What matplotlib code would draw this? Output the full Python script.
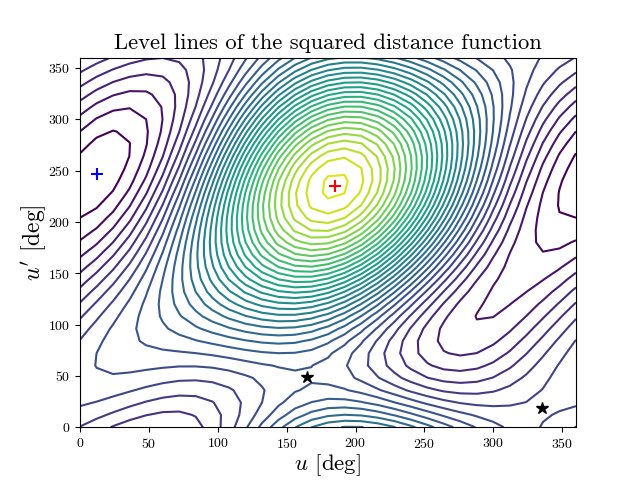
import numpy as np
import matplotlib
matplotlib.use('Agg')
import matplotlib.pyplot as plt

plt.rcParams['font.family'] = 'cmr10'
plt.rcParams['mathtext.fontset'] = 'cm'
plt.rcParams['axes.formatter.use_mathtext'] = True

# sampling of the two angles, every 12 deg (360 wraps round to 0)
u_deg = np.arange(0, 360, 12)
up_deg = np.arange(0, 360, 12)

# distance field, as contour level number x 100
# one row per u', one column per u
field = [
    [696,644,592,546,513,502,518,566,645,754,884,1026,1167,1296,1400,1472,1507,1505,1469,1406,1325,1236,1147,1065,993,932,881,836,792,746],
    [763,726,683,640,603,581,580,606,659,737,836,945,1054,1153,1232,1282,1302,1290,1251,1193,1123,1051,984,929,887,858,840,826,811,791],
    [815,796,766,729,693,666,654,663,695,748,819,899,980,1050,1103,1132,1133,1109,1064,1004,940,879,829,794,777,776,787,802,816,821],
    [850,850,835,809,779,752,735,734,751,786,835,891,946,992,1020,1026,1009,969,913,848,783,727,687,668,669,690,725,765,804,834],
    [867,886,889,877,857,836,820,816,826,849,883,920,955,979,986,971,934,877,807,732,661,603,566,554,568,604,656,717,778,830],
    [864,903,924,929,923,914,906,906,915,934,960,987,1007,1014,1002,968,911,836,749,660,577,512,471,459,477,521,585,660,738,808],
    [843,900,940,964,976,983,989,999,1016,1039,1065,1087,1099,1095,1069,1018,943,849,743,636,537,458,406,387,401,445,513,597,686,770],
    [805,878,936,980,1013,1040,1066,1094,1125,1159,1192,1217,1228,1219,1183,1119,1028,916,790,662,543,444,375,341,344,381,446,531,625,719],
    [752,838,914,978,1033,1084,1133,1184,1237,1289,1337,1372,1389,1380,1340,1267,1163,1033,887,736,594,471,379,324,309,331,386,464,558,656],
    [686,782,873,957,1036,1113,1190,1268,1347,1424,1493,1546,1575,1573,1534,1457,1342,1197,1031,857,688,539,419,337,297,298,335,402,488,586],
    [610,714,817,919,1021,1125,1232,1341,1452,1559,1654,1731,1778,1789,1756,1679,1558,1400,1216,1019,823,643,492,379,310,283,298,346,420,510],
    [529,635,748,866,990,1121,1258,1401,1546,1686,1814,1918,1990,2018,1998,1925,1801,1634,1434,1214,991,781,597,450,346,288,274,299,355,434],
    [445,549,668,800,944,1100,1268,1445,1625,1802,1964,2101,2200,2251,2247,2183,2061,1888,1674,1435,1187,946,728,545,405,312,266,263,296,359],
    [362,460,581,723,884,1064,1260,1470,1686,1900,2099,2270,2400,2477,2493,2442,2326,2151,1928,1671,1399,1130,879,660,483,354,273,239,246,289],
    [283,372,491,638,812,1012,1235,1476,1726,1976,2211,2418,2581,2686,2725,2691,2584,2411,2182,1912,1620,1325,1043,790,577,411,295,228,207,227],
    [211,287,401,549,733,948,1193,1460,1742,2026,2296,2537,2733,2869,2932,2917,2824,2656,2425,2147,1839,1522,1213,929,682,481,330,230,179,174],
    [149,210,314,460,647,873,1135,1425,1733,2047,2350,2623,2851,3016,3105,3112,3034,2875,2647,2365,2046,1712,1381,1070,793,560,377,245,165,134],
    [100,143,234,373,560,791,1064,1371,1700,2039,2369,2672,2928,3121,3236,3265,3204,3059,2838,2556,2232,1886,1539,1207,905,644,432,271,163,106],
    [64,88,164,293,474,705,983,1299,1644,2001,2353,2680,2961,3180,3319,3370,3329,3198,2988,2712,2388,2038,1680,1333,1013,730,494,308,174,93],
    [45,49,108,222,393,618,895,1214,1566,1935,2302,2647,2949,3189,3350,3423,3401,3288,3091,2825,2508,2159,1798,1444,1112,814,559,353,198,95],
    [42,27,67,165,321,535,804,1120,1471,1844,2220,2576,2893,3149,3329,3421,3418,3324,3144,2892,2586,2245,1888,1534,1198,892,626,405,233,111],
    [57,24,45,124,262,460,715,1019,1364,1733,2109,2470,2794,3062,3256,3364,3380,3304,3143,2910,2620,2293,1947,1600,1267,961,691,462,278,143],
    [89,39,42,101,219,396,631,919,1249,1607,1975,2333,2659,2932,3136,3257,3289,3231,3090,2878,2608,2300,1971,1639,1318,1019,752,522,333,188],
    [137,74,59,98,193,347,558,823,1131,1471,1825,2172,2492,2765,2973,3103,3148,3108,2988,2797,2552,2267,1962,1650,1347,1064,807,582,394,245],
    [199,126,96,115,187,314,498,735,1017,1332,1665,1995,2302,2568,2775,2910,2965,2941,2840,2673,2453,2196,1918,1634,1355,1093,853,641,460,312],
    [273,194,151,152,200,301,455,661,912,1197,1502,1809,2098,2351,2551,2686,2748,2736,2654,2510,2318,2090,1843,1590,1341,1106,890,696,527,386],
    [356,274,222,206,233,306,430,602,819,1071,1344,1623,1888,2123,2312,2442,2507,2504,2438,2316,2151,1954,1741,1521,1306,1103,915,745,594,464],
    [444,364,306,277,283,331,424,563,744,959,1198,1444,1682,1894,2067,2188,2251,2254,2201,2099,1960,1794,1614,1430,1251,1083,927,785,657,543],
    [533,458,398,360,349,373,438,543,688,867,1069,1281,1488,1674,1826,1934,1991,1997,1954,1869,1752,1615,1469,1321,1179,1047,925,814,712,618],
    [618,553,495,451,427,431,469,544,655,798,963,1140,1314,1472,1601,1692,1740,1744,1706,1634,1538,1427,1311,1197,1092,996,910,832,758,687],
]
level_numbers = np.arange(1, 35)

# critical points marked on the plot
minimum = (12, 247)
maximum = (185, 235)
saddle_u = [165, 335]
saddle_up = [49, 19]

# both angles wrap round, so repeat first row and column at 360
Z = np.array(field) / 100
Z = np.hstack([Z, Z[:, :1]])
Z = np.vstack([Z, Z[:1, :]])
u = np.append(u_deg, 360)
up = np.append(up_deg, 360)

plt.figure()
plt.contour(u, up, Z, levels=level_numbers, cmap='viridis', vmin=1, vmax=35.5)
plt.plot(minimum[0], minimum[1], 'b+', ms=9, mew=1.5)
plt.plot(maximum[0], maximum[1], 'r+', ms=9, mew=1.5)
plt.plot(saddle_u, saddle_up, 'k*', ms=9)
plt.xlim(0, 360)
plt.ylim(0, 360)
plt.xticks(np.arange(0, 351, 50))
plt.yticks(np.arange(0, 351, 50))
plt.title('Level lines of the squared distance function', fontsize=16.3)
plt.xlabel(r'$u$ [deg]', fontsize=16.5, labelpad=1)
plt.ylabel(r"$u'$ [deg]", fontsize=17, labelpad=0)
plt.savefig('out.png', dpi=100)
